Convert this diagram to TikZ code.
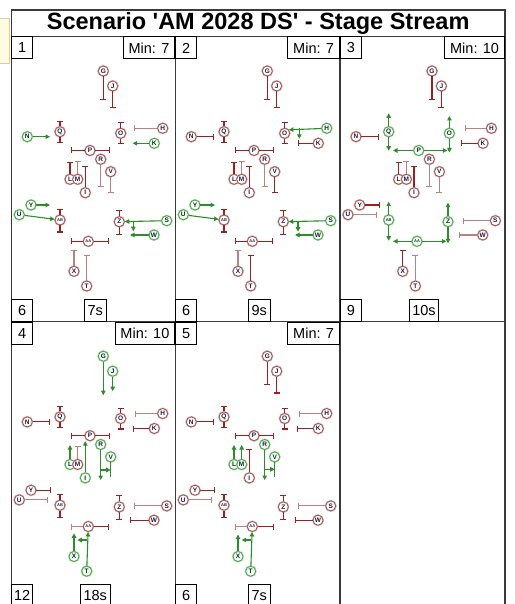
\documentclass[tikz,border=0pt]{standalone}
\usepackage{fontspec}
\setmainfont{Liberation Sans}
\usetikzlibrary{arrows.meta,calc}
\definecolor{rdark}{HTML}{9E1F1F}
\definecolor{rlight}{HTML}{B98282}
\definecolor{rring}{HTML}{A65858}
\definecolor{gline}{HTML}{2E8B2E}
\definecolor{gring}{HTML}{4FA84F}
\definecolor{ink}{HTML}{1C1C3A}
\definecolor{frm}{HTML}{3A3A3A}
\definecolor{ynote}{HTML}{FFFBE0}
\definecolor{ynoteb}{HTML}{D8CFA0}
\tikzset{
 pl/.style={circle,minimum size=10pt,inner sep=0pt,line width=0.9pt,font=\bfseries\fontsize{6.5}{6.5}\selectfont,text=ink},
 rpl/.style={pl,draw=rring,fill=white,preaction={draw=rring!45,line width=2pt}},
 gpl/.style={pl,draw=gring,fill=green!4,preaction={draw=gring!45,line width=2pt}},
 tinytext/.style={font=\bfseries\fontsize{4}{4}\selectfont},
 rbar/.style={draw=rdark,line width=1.1pt,-{Bar[width=6pt,line width=1.1pt]}},
 lbar/.style={rbar,draw=rlight},
 garr/.style={draw=gline,line width=1.1pt,-{Triangle[length=4.5pt,width=4.5pt]}},
 gseg/.style={draw=gline,line width=1.1pt},
 lbl/.style={draw=black,line width=0.9pt,fill=white,font=\fontsize{14.5}{15}\selectfont,inner sep=0pt,minimum height=22pt},
 numbox/.style={lbl,minimum width=21pt,anchor=north west},
 minbox/.style={lbl,inner xsep=5.5pt,anchor=north east},
 tbox/.style={lbl,inner xsep=3pt},
 frame/.style={draw=frm,line width=1.2pt},
 cG/.style=rpl,cJ/.style=rpl,cQ/.style=rpl,cN/.style=rpl,cO/.style=rpl,cH/.style=rpl,
 cK/.style=rpl,cP/.style=rpl,cR/.style=rpl,cV/.style=rpl,cL/.style=rpl,cM/.style=rpl,
 cI/.style=rpl,cY/.style=rpl,cU/.style=rpl,cAB/.style=rpl,cZ/.style=rpl,cS/.style=rpl,
 cW/.style=rpl,cAA/.style=rpl,cX/.style=rpl,cT/.style=rpl
}
\newcommand\players{%
 \foreach \n/\x/\y in {G/92/34.5,J/101.4/49.5,Q/48.7/95.2,N/16/100.2,O/109.4/96.8,H/151.4/91.8,K/143/106.8,P/78.7/114,R/89.4/122.8,V/99.4/135.2,L/58.7/142.8,M/66.4/142.8,I/74/156.2,Y/19.7/168.5,U/8/178.2,Z/108/185.2,S/155.4/184.2,W/142.7/198.5,X/62.7/234.8,T/75.4/249.5}{%
   \edef\tmp{\noexpand\node[c\n] (\n) at (\x,\y) {\n};}\tmp}%
 \foreach \n/\x/\y in {AA/77/204.8,AB/48.7/183.5}{%
   \edef\tmp{\noexpand\node[c\n,tinytext] (\n) at (\x,\y) {\n};}\tmp}%
}
\newcommand\labels[6]{%
 \node[numbox] (n) at (0,0) {#1};
 \node[minbox] (m) at (#6,0) {#2};
 \node[numbox,anchor=south west] (s) at (0,285.2) {#3};
 \node[tbox] (t) at (84,274.2) {#4};
}
\begin{document}
\begin{tikzpicture}[x=1pt,y=-1pt]
\useasboundingbox (0,0) rectangle (514,604);
\clip (0,0) rectangle (514,604);
\fill[white] (0,0) rectangle (514,604);
\draw[fill=ynote,draw=ynoteb,line width=0.8pt] (-5,18) rectangle (9,63);
% frame
\draw[frame] (11.3,10) rectangle (505,640);
\draw[frame] (11.3,36.5) -- (505,36.5);
\draw[frame] (11.3,321.7) -- (505,321.7);
\draw[frame] (175.3,36.5) -- (175.3,640);
\draw[frame] (340,36.5) -- (340,640);
\node[font=\bfseries\fontsize{23.5}{24}\selectfont] (title) at (258.2,23.6) {Scenario \textquotesingle AM 2028 DS\textquotesingle{} - Stage Stream};

% ---------- panel 1
\begin{scope}[shift={(11.3,36.5)},name prefix=a-,cN/.style=gpl,cK/.style=gpl,cY/.style=gpl,cU/.style=gpl,cS/.style=gpl,cW/.style=gpl]
\players
\labels{1}{Min: 7}{6}{7s}{}{164}
\draw[rbar] (G) -- ++(0,29);
\draw[rbar] (J) -- ++(0,22.3);
\draw[rbar] (Q) -- ++(0,-11); \draw[rbar] (Q) -- ++(0,11);
\draw[rbar] (O) -- ++(0,-11); \draw[rbar] (O) -- ++(0,11);
\draw[lbar] (H) -- ++(-28.4,0);
\draw[rbar] (P) -- ++(-19,0); \draw[rbar] (P) -- ++(20,0);
\draw[lbar] (R) -- ++(0,27.4);
\draw[lbar] (V) -- ++(0,21.6);
\draw[rbar] (L) -- ++(0,-17.6);
\draw[lbar] (M) -- ++(0,-18.6);
\draw[rbar] (I) -- ++(0,-26.7);
\draw[rbar] (AB) -- ++(0,-11.5); \draw[rbar] (AB) -- ++(0,12.5);
\draw[rbar] (Z) -- ++(0,-12); \draw[rbar] (Z) -- ++(0,13);
\draw[rbar] (AA) -- ++(-17.5,0); \draw[rbar] (AA) -- ++(20.5,0);
\draw[lbar] (X) -- ++(0,-21.3);
\draw[lbar] (T) -- ++(0,-31);
\draw[garr] (N) -- ++(22.7,0);
\draw[garr] (K) -- ++(-21.6,0);
\draw[garr] (Y) -- ++(19,0);
\draw[garr] (U) -- (AB);
\draw[garr] (S) -- (Z);
\path (Z) ++(14,0) coordinate (zb);
\draw[garr] (zb) -- ++(0,9.5);
\draw[garr] (W) -- ++(-24,0);
\end{scope}

% ---------- panel 2
\begin{scope}[shift={(175.3,36.5)},name prefix=b-,cH/.style=gpl,cY/.style=gpl,cU/.style=gpl,cS/.style=gpl,cW/.style=gpl]
\players
\labels{2}{Min: 7}{6}{9s}{}{164.7}
\draw[rbar] (G) -- ++(0,29);
\draw[rbar] (J) -- ++(0,22.3);
\draw[rbar] (N) -- ++(23,0);
\draw[rbar] (Q) -- ++(0,-11); \draw[rbar] (Q) -- ++(0,11);
\draw[rbar] (O) -- ++(0,-11); \draw[rbar] (O) -- ++(0,11);
\draw[rbar] (K) -- ++(-20.6,0);
\draw[rbar] (P) -- ++(-19,0); \draw[rbar] (P) -- ++(20,0);
\draw[lbar] (R) -- ++(0,27.4);
\draw[rbar] (V) -- ++(0,21.6);
\draw[rbar] (L) -- ++(0,-17.6);
\draw[lbar] (M) -- ++(0,-18.6);
\draw[rbar] (I) -- ++(0,-26.7);
\draw[rbar] (AB) -- ++(0,-11.5); \draw[rbar] (AB) -- ++(0,12.5);
\draw[rbar] (Z) -- ++(0,-12); \draw[rbar] (Z) -- ++(0,13);
\draw[rbar] (AA) -- ++(-17.5,0); \draw[rbar] (AA) -- ++(20.5,0);
\draw[lbar] (X) -- ++(0,-21.3);
\draw[rbar] (T) -- ++(0,-31);
\draw[garr] (H) -- (O.40);
\path (H) ++(-27.4,0) coordinate (hb);
\draw[garr] (hb) -- ++(0,10.5);
\draw[garr] (Y) -- ++(20,0);
\draw[garr] (U) -- (AB);
\draw[garr] (S) -- (Z);
\path (Z) ++(14.7,0) coordinate (zb);
\draw[garr] (zb) -- ++(0,10);
\draw[garr] (W) -- ++(-23,0);
\end{scope}

% ---------- panel 3
\begin{scope}[shift={(340,36.5)},name prefix=c-,cQ/.style=gpl,cO/.style=gpl,cP/.style=gpl,cAB/.style=gpl,cZ/.style=gpl,cAA/.style=gpl]
\players
\labels{3}{Min: 10}{9}{10s}{}{165}
\draw[rbar] (G) -- ++(0,29);
\draw[rbar] (J) -- ++(0,22.3);
\draw[rbar] (N) -- ++(23,0);
\draw[garr] (Q) -- ++(0,-18.4); \draw[garr] (Q) -- ++(0,19);
\draw[garr] (O) -- ++(0,-17.3); \draw[garr] (O) -- ++(0,19.2);
\draw[lbar] (H) -- ++(-26.7,0);
\draw[rbar] (K) -- ++(-21.7,0);
\draw[garr] (P) -- ++(-25.7,0); \draw[garr] (P) -- ++(28.6,0);
\draw[lbar] (R) -- ++(0,27.4);
\draw[lbar] (V) -- ++(0,21.6);
\draw[rbar] (L) -- ++(0,-17.6);
\draw[lbar] (M) -- ++(0,-18.6);
\draw[rbar] (I) -- ++(0,-26.7);
\draw[rbar] (Y) -- ++(20.6,0);
\draw[lbar] (U) -- ++(29.3,0);
\draw[garr] (AB) -- ++(0,-18.3); \draw[garr] (AB) -- ++(0,20.7);
\draw[garr] (Z) -- ++(0,-19); \draw[garr] (Z) -- ++(0,21.6);
\draw[lbar] (S) -- ++(-32.4,0);
\draw[lbar] (W) -- ++(-24,0);
\draw[garr] (AA) -- ++(-24,0); \draw[garr] (AA) -- ++(29.3,0);
\draw[rbar] (X) -- ++(0,-21.3);
\draw[lbar] (T) -- ++(0,-31);
\end{scope}

% ---------- panel 4
\begin{scope}[shift={(11.3,321.7)},name prefix=d-,cG/.style=gpl,cJ/.style=gpl,cL/.style=gpl,cI/.style=gpl,cR/.style=gpl,cV/.style=gpl,cT/.style=gpl,cX/.style=gpl]
\players
\labels{4}{Min: 10}{12}{18s}{}{164}
\draw[garr] (G) -- ++(0,39);
\draw[garr] (J) -- ++(0,20);
\draw[rbar] (N) -- ++(23,0);
\draw[rbar] (Q) -- ++(0,-11); \draw[rbar] (Q) -- ++(0,11);
\draw[rbar] (O) -- ++(0,-11); \draw[rbar] (O) -- ++(0,11);
\draw[lbar] (H) -- ++(-28,0);
\draw[rbar] (K) -- ++(-21.6,0);
\draw[rbar] (P) -- ++(-19,0); \draw[rbar] (P) -- ++(20,0);
\draw[garr] (L) -- ++(0,-19.5);
\draw[lbar] (M) -- ++(0,-18.6);
\draw[garr] (I) -- (I |- P.south);
\draw[garr] (R) -- ++(0,35.5);
\path (R) ++(0,25.5) coordinate (rb);
\draw[garr] (rb) -- (rb -| V);
\draw[gseg] (V) -- ++(0,20.4);
\draw[rbar] (Y) -- ++(20,0);
\draw[lbar] (U) -- ++(29,0);
\draw[rbar] (AB) -- ++(0,-11.5); \draw[rbar] (AB) -- ++(0,12.5);
\draw[rbar] (Z) -- ++(0,-12); \draw[rbar] (Z) -- ++(0,13);
\draw[lbar] (S) -- ++(-32.4,0);
\draw[rbar] (W) -- ++(-24,0);
\draw[lbar] (AA) -- ++(-17.5,0); \draw[rbar] (AA) -- ++(20.5,0);
\draw[garr] (T) -- (AA);
\path (T) ++(0,-31.2) coordinate (tb);
\draw[garr] (tb) -- ++(-9.4,0);
\draw[garr] (X) -- ++(0,-23.2);
\end{scope}

% ---------- panel 5
\begin{scope}[shift={(175.3,321.7)},name prefix=e-,cL/.style=gpl,cM/.style=gpl,cR/.style=gpl,cV/.style=gpl,cT/.style=gpl,cX/.style=gpl]
\players
\labels{5}{Min: 7}{6}{7s}{}{164.7}
\draw[rbar] (G) -- ++(0,29);
\draw[rbar] (J) -- ++(0,22.3);
\draw[rbar] (N) -- ++(23,0);
\draw[rbar] (Q) -- ++(0,-11); \draw[rbar] (Q) -- ++(0,11);
\draw[rbar] (O) -- ++(0,-11); \draw[rbar] (O) -- ++(0,11);
\draw[lbar] (H) -- ++(-27.4,0);
\draw[rbar] (K) -- ++(-21.6,0);
\draw[rbar] (P) -- ++(-19,0); \draw[rbar] (P) -- ++(20,0);
\draw[garr] (L) -- ++(0,-19.5);
\draw[garr] (M) -- ++(0,-19.5);
\draw[rbar] (I) -- ++(0,-28.6);
\draw[garr] (R) -- ++(0,35.5);
\path (R) ++(0,24.8) coordinate (rb);
\draw[garr] (rb) -- (rb -| V);
\draw[gseg] (V) -- ++(0,19.8);
\draw[rbar] (Y) -- ++(20,0);
\draw[lbar] (U) -- ++(28.4,0);
\draw[rbar] (AB) -- ++(0,-11.5); \draw[rbar] (AB) -- ++(0,12.5);
\draw[rbar] (Z) -- ++(0,-12); \draw[rbar] (Z) -- ++(0,13);
\draw[lbar] (S) -- ++(-32.4,0);
\draw[rbar] (W) -- ++(-23,0);
\draw[lbar] (AA) -- ++(-17,0); \draw[rbar] (AA) -- ++(21.5,0);
\draw[garr] (T) -- (AA);
\path (T) ++(0,-31.2) coordinate (tb);
\draw[garr] (tb) -- ++(-9,0);
\draw[garr] (X) -- ++(0,-22);
\end{scope}
\end{tikzpicture}
\end{document}
